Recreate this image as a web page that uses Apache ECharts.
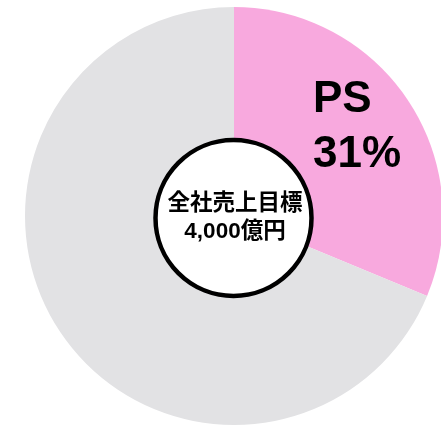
<!DOCTYPE html>
<html>
<head>
<meta charset="utf-8">
<script src="https://cdn.jsdelivr.net/npm/echarts@6/dist/echarts.min.js"></script>
<style>
	html,body{margin:0;padding:0;background:#fff;}
	#chart{width:441px;height:427px;}
</style>
</head>
<body>
<div id="chart"></div>
<script>
// share of company-wide sales target (億円)
var segmentNames = ["PS", "その他"];
var segmentValues = [1250, 2750];
var segmentColors = ["#F8A9DE", "#E2E2E4"];
var centerTitle = "全社売上目標";
var centerAmount = "4,000億円";

var fontFamily = "'Liberation Sans', Arial, 'Noto Sans CJK JP', sans-serif";

var pieData = [];
for (var i = 0; i < segmentNames.length; i++) {
	pieData.push({
		name: segmentNames[i],
		value: segmentValues[i],
		itemStyle: {color: segmentColors[i]},
		label: {show: i == 0}
	});
}

var chart = echarts.init(document.getElementById("chart"));
chart.setOption({
	animation: false,
	series: [
		{
			type: "pie",
			center: [234, 216],
			radius: [0, 209],
			startAngle: 90,
			clockwise: true,
			silent: true,
			itemStyle: {borderWidth: 0},
			label: {
				position: "inside",
				formatter: function(p){
					return p.name + "\n" + Math.round(p.percent) + "%";
				},
				color: "#000",
				fontFamily: fontFamily,
				fontWeight: "bold",
				fontSize: 44,
				lineHeight: 55,
				align: "left"
			},
			labelLayout: {x: 313, y: 127, align: "left", verticalAlign: "middle"},
			labelLine: {show: false},
			data: pieData
		},
		{
			type: "pie",
			center: [233.5, 218],
			radius: [0, 78],
			silent: true,
			itemStyle: {color: "#fff", borderColor: "#000", borderWidth: 4.5},
			label: {
				position: "center",
				offset: [1.5, 0],
				formatter: centerTitle + "\n" + centerAmount,
				color: "#000",
				fontFamily: fontFamily,
				fontWeight: "bold",
				fontSize: 22.5,
				lineHeight: 28
			},
			labelLine: {show: false},
			data: [{name: centerTitle, value: 1}]
		}
	]
});
</script>
</body>
</html>
